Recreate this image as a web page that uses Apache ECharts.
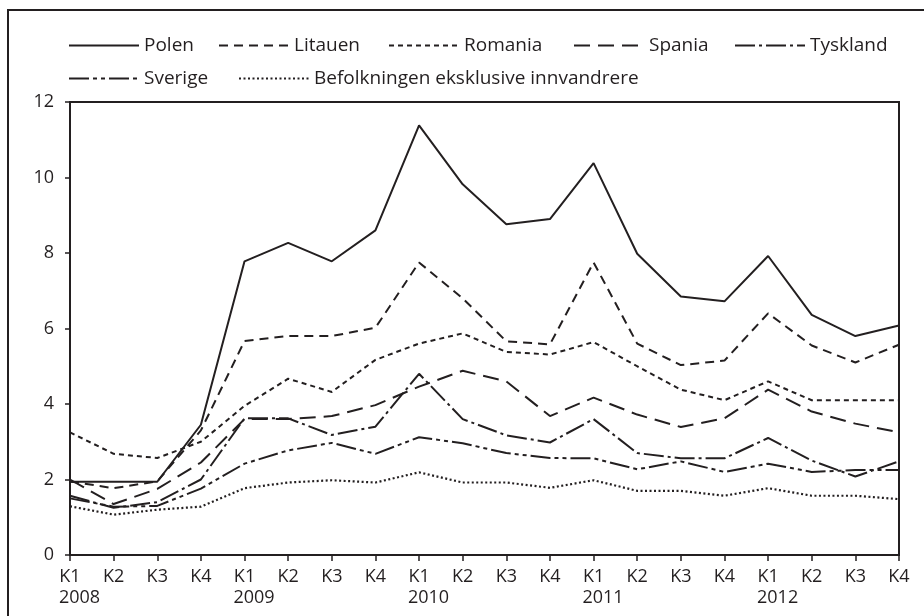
<!DOCTYPE html>
<html>
<head>
<meta charset="utf-8">
<script src="https://cdn.jsdelivr.net/npm/echarts@6/dist/echarts.min.js"></script>
<style>
html,body{margin:0;padding:0;background:#fff;}
#chart{width:924px;height:616px;}
</style>
</head>
<body>
<div id="chart"></div>
<script>
var kvartal = ['K1','K2','K3','K4','K1','K2','K3','K4','K1','K2','K3','K4','K1','K2','K3','K4','K1','K2','K3','K4'];
var aar = ['2008','2009','2010','2011','2012'];

var polen     = [1.94,1.94,1.94,3.45,7.78,8.27,7.78,8.6,11.38,9.82,8.76,8.9,10.38,7.98,6.85,6.72,7.92,6.36,5.8,6.08];
var litauen   = [1.95,1.77,1.95,3.3,5.67,5.8,5.8,6.02,7.75,6.8,5.66,5.58,7.75,5.6,5.03,5.15,6.4,5.55,5.1,5.57];
var romania   = [3.25,2.68,2.57,3.0,3.95,4.67,4.32,5.17,5.6,5.87,5.38,5.31,5.64,5.0,4.38,4.1,4.6,4.1,4.1,4.1];
var spania    = [2.0,1.35,1.75,2.45,3.6,3.6,3.68,3.97,4.46,4.88,4.6,3.68,4.17,3.72,3.39,3.62,4.38,3.8,3.48,3.25];
var tyskland  = [1.57,1.25,1.4,2.0,3.62,3.62,3.18,3.4,4.8,3.6,3.17,2.98,3.6,2.7,2.56,2.56,3.1,2.5,2.08,2.48];
var sverige   = [1.5,1.28,1.3,1.76,2.42,2.77,2.97,2.68,3.12,2.96,2.7,2.57,2.56,2.27,2.48,2.2,2.42,2.2,2.25,2.25];
var befolkning= [1.29,1.07,1.2,1.28,1.77,1.92,1.98,1.92,2.19,1.92,1.92,1.78,1.98,1.7,1.7,1.57,1.77,1.57,1.57,1.48];

var navn = ['Polen','Litauen','Romania','Spania','Tyskland','Sverige','Befolkningen eksklusive innvandrere'];

var ink = '#231f20';
var font = 'Open Sans';

function linje(n, data, type, bredde){
	return {
		name: n,
		type: 'line',
		data: data,
		symbol: 'none',
		smooth: false,
		lineStyle: {color: ink, width: bredde || 2, type: type},
		itemStyle: {color: ink}
	};
}

// en legende per serie, slik at plasseringen blir som i originalen
function legende(n, x, y){
	return {
		data: [n],
		left: x,
		top: y,
		itemWidth: 70,
		itemHeight: 14,
		itemStyle: {opacity: 0},
		textStyle: {fontFamily: font, fontSize: 19, color: ink}
	};
}

var myChart = echarts.init(document.getElementById('chart'), null, {renderer:'canvas'});
var option = {
	animation: false,
	backgroundColor: '#fff',
	textStyle: {fontFamily: font, color: ink},
	graphic: [
		{
			type: 'rect',
			shape: {x: 8, y: 10, width: 1000, height: 1000},
			style: {fill: 'none', stroke: ink, lineWidth: 2}
		}
	],
	legend: [
		legende(navn[0], 63, 31),
		legende(navn[1], 213, 31),
		legende(navn[2], 383, 31),
		legende(navn[3], 568, 31),
		legende(navn[4], 729, 31),
		legende(navn[5], 63, 64),
		legende(navn[6], 233, 64)
	],
	grid: {
		left: 70,
		top: 102,
		right: 25,
		bottom: 61,
		show: true,
		borderColor: ink,
		borderWidth: 2,
		containLabel: false
	},
	xAxis: {
		type: 'category',
		data: kvartal,
		boundaryGap: false,
		axisLine: {lineStyle: {color: ink, width: 2}},
		axisTick: {show: true, length: 6, alignWithLabel: true, lineStyle: {color: ink, width: 1.5}},
		splitLine: {show: false},
		axisLabel: {
			interval: 0,
			margin: 11,
			color: ink,
			formatter: function(v, i){
				if(i % 4 == 0){
					return '{k|' + v + '}\n{y|' + aar[i/4] + '}';
				}
				return '{k|' + v + '}';
			},
			rich: {
				k: {fontFamily: font, fontSize: 18, lineHeight: 21, color: ink, align: 'center'},
				y: {fontFamily: font, fontSize: 18, lineHeight: 21, color: ink, padding: [0,0,0,19]}
			}
		}
	},
	yAxis: {
		type: 'value',
		min: 0,
		max: 12,
		interval: 2,
		axisLine: {show: true, lineStyle: {color: ink, width: 2}},
		axisTick: {show: true, length: 5, lineStyle: {color: ink, width: 1.5}},
		splitLine: {show: false},
		axisLabel: {margin: 16, fontFamily: font, fontSize: 18, color: ink}
	},
	series: [
		linje(navn[0], polen, 'solid'),
		linje(navn[1], litauen, [9,6]),
		linje(navn[2], romania, [5,4]),
		linje(navn[3], spania, [16,8]),
		linje(navn[4], tyskland, [20,4,3,4]),
		linje(navn[5], sverige, [20,4,4,4,4,4]),
		linje(navn[6], befolkning, [2,2.5], 2.2)
	]
};
myChart.setOption(option);
</script>
</body>
</html>
